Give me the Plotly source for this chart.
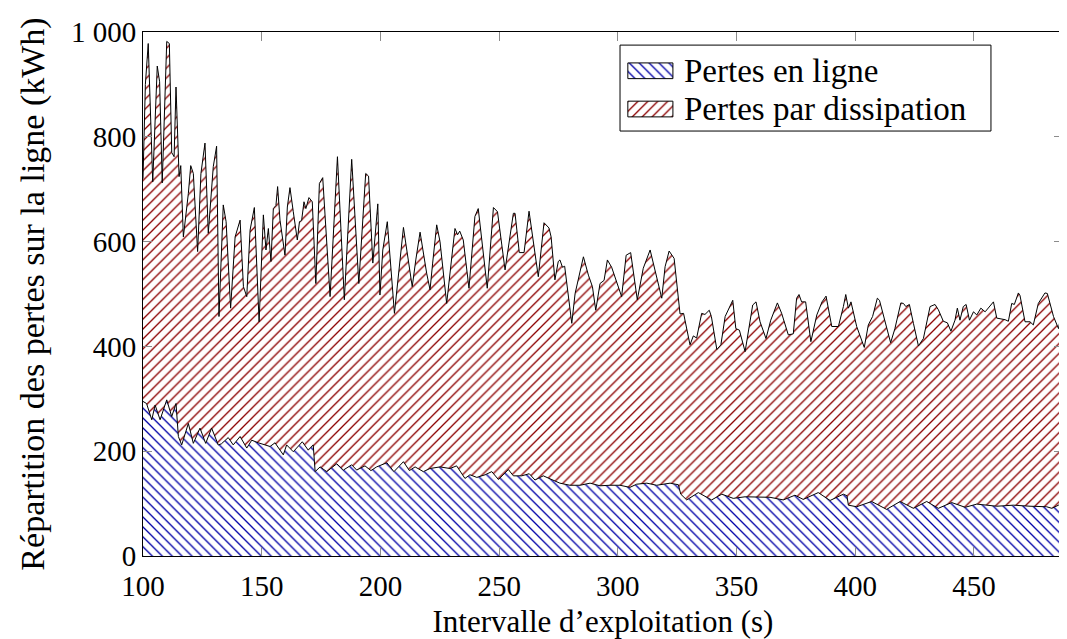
import plotly.graph_objects as go

# --- Data ---
# Upper edge of the stack (Pertes en ligne + Pertes par dissipation), kWh
x_total = [100, 101, 102.2, 103, 104.1, 106.0, 107, 108.1, 110.0, 111.1, 112.1, 113.1, 113.9, 115.2, 115.9,
           117.0, 119.1, 120.1, 121.2, 123.0, 124.4, 126.1, 127.5, 129.6, 131.0, 132.0, 133.8, 135.0, 136.9,
           138.8, 140.9, 142.3, 143.7, 145.1, 146.9, 148.9, 150.7, 151.8, 152.8, 153.9, 154.9, 156.0, 156.7,
           157.7, 159.8, 160.8, 161.9, 163.3, 165.0, 165.9, 166.8, 167.8, 168.6, 169.9, 171.3, 172.8, 174.3,
           175.7, 178.8, 181.9, 184.8, 187.9, 190.9, 193.8, 195.0, 196.8, 198.9, 199.8, 201.0, 202.9, 205.9,
           209.7, 213.4, 214.9, 216.7, 219.5, 220.9, 222.0, 223.7, 225.1, 227.9, 231.4, 232.5, 233.4, 234.9,
           237.3, 239.8, 241.2, 245.0, 247.6, 249.3, 252.5, 256.0, 256.7, 258.5, 260.5, 262.6, 266.5, 268.9,
           271.0, 271.9, 273.5, 274.9, 275.6, 276.7, 277.6, 280.6, 282.0, 285.5, 287.6, 289.3, 290.7, 292.5,
           294.2, 295.6, 297.4, 301.6, 303.5, 305.4, 308.2, 310.7, 313.6, 318.5, 319.9, 321.6, 323.7, 326.2,
           327.7, 330.4, 331.8, 333.2, 335.3, 336.7, 338.5, 339.4, 341.7, 343.4, 345.2, 348.4, 349.7, 351.2,
           353.6, 355.7, 356.8, 358.2, 359.9, 362.4, 364.4, 367.2, 369.0, 371.8, 373.9, 375.3, 376.3, 377.4,
           379.1, 381.3, 383.8, 386.0, 387.7, 390.1, 392.9, 395.0, 396.0, 397.1, 398.2, 400.6, 403.8, 405.5,
           407.3, 409.3, 410.2, 414.9, 416.7, 419.2, 420.3, 421.3, 422.8, 424.5, 426.6, 428.7, 431.5, 433.6,
           435.0, 437.1, 438.8, 440.3, 442.0, 443.0, 444.1, 445.5, 446.7, 448.1, 449.8, 451.2, 452.9, 454.7,
           458.2, 459.6, 463.1, 464.5, 465.9, 467.0, 468.7, 469.4, 471.5, 473.6, 475.0, 477.1, 479.9, 480.9,
           483.5, 485.6, 487.5]
y_total = [720, 900, 978, 850, 714, 935, 905, 712, 982, 978, 770, 762, 895, 724, 745,
           609, 692, 745, 730, 581, 730, 788, 616, 743, 782, 457, 670, 638, 473,
           609, 641, 514, 495, 622, 665, 447, 651, 584, 625, 562, 663, 669, 705,
           641, 574, 666, 703, 657, 603, 638, 640, 676, 663, 684, 676, 520, 711,
           722, 495, 762, 489, 757, 520, 730, 725, 559, 672, 498, 584, 638, 463,
           627, 514, 565, 618, 539, 508, 559, 632, 600, 482, 625, 613, 620, 603,
           511, 648, 663, 511, 665, 657, 546, 654, 654, 579, 579, 658, 533, 636,
           626, 609, 527, 562, 565, 551, 553, 444, 501, 571, 536, 514, 469, 520,
           526, 565, 551, 495, 574, 579, 489, 549, 584, 492, 552, 582, 568, 462,
           463, 403, 420, 416, 463, 461, 469, 457, 394, 403, 457, 488, 434, 431,
           390, 447, 479, 485, 447, 415, 450, 483, 463, 422, 424, 492, 499, 485,
           485, 409, 460, 485, 496, 438, 438, 476, 499, 473, 485, 438, 398, 441,
           457, 492, 488, 407, 434, 483, 482, 476, 480, 444, 401, 415, 476, 480,
           470, 448, 445, 429, 450, 473, 450, 476, 480, 450, 466, 460, 473, 466,
           485, 454, 451, 448, 482, 480, 502, 497, 447, 447, 441, 482, 502, 501,
           457, 434, 480]

# Pertes en ligne (lower layer), kWh
x_ligne = [100, 101.5, 103.7, 105.1, 107.2, 110.0, 112.1, 113.9, 114.9, 116.3, 119.1, 121.2, 124.0, 126.4,
           128.9, 131.7, 133.0, 135.9, 138.0, 140.9, 143.7, 145.8, 148.6, 151.4, 153.5, 155.6, 159.1, 160.5,
           163.3, 167.1, 169.6, 171.7, 172.5, 174.6, 177.4, 181.6, 184.4, 187.9, 190.0, 193.5, 196.0, 198.4,
           202.7, 205.7, 209.7, 212.2, 214.6, 218.1, 220.9, 225.1, 229.3, 232.1, 235.6, 237.7, 240.6, 244.1,
           246.9, 249.7, 253.9, 256.0, 259.5, 262.7, 265.1, 268.6, 272.8, 275.6, 279.8, 284.1, 288.3, 292.5,
           296.7, 300.9, 305.1, 307.9, 312.2, 316.4, 322.0, 325.5, 326.5, 329.0, 333.9, 339.5, 343.8, 348.6,
           353.6, 358.5, 364.1, 369.7, 374.6, 378.1, 384.4, 389.4, 395.0, 396.5, 397.1, 400.6, 406.9, 413.2,
           418.9, 424.5, 430.1, 435.0, 440.6, 446.3, 451.2, 459.6, 466.6, 473.6, 480.6, 482.8, 485.6, 487.5]
y_ligne = [295, 291, 260, 288, 260, 298, 266, 291, 228, 212, 253, 215, 244, 215,
           244, 212, 214, 226, 212, 228, 206, 221, 216, 212, 209, 216, 193, 212,
           199, 218, 202, 212, 161, 170, 161, 176, 164, 174, 164, 172, 163, 170,
           178, 161, 180, 163, 170, 161, 167, 170, 167, 172, 148, 155, 150, 155,
           161, 146, 165, 153, 153, 157, 145, 153, 145, 139, 135, 135, 139, 134,
           135, 135, 131, 137, 139, 135, 139, 136, 118, 107, 121, 107, 118, 110,
           113, 112, 112, 107, 116, 108, 121, 106, 118, 115, 97, 94, 104, 89,
           104, 91, 104, 91, 102, 93, 99, 95, 97, 95, 94, 91, 97, 104]

series_names = ["Pertes en ligne", "Pertes par dissipation"]
x_ticks = [100, 150, 200, 250, 300, 350, 400, 450]
y_ticks = [0, 200, 400, 600, 800, 1000]
y_tick_labels = ["0", "200", "400", "600", "800", "1 000"]

FONT = "Liberation Serif"
BLUE = "#0000a8"
RED = "#8c0000"
pat_blue = dict(shape="\\", fgcolor=BLUE, fgopacity=1, bgcolor="white", size=7, solidity=0.19)
pat_red = dict(shape="/", fgcolor=RED, fgopacity=1, bgcolor="white", size=7, solidity=0.19)

fig = go.Figure()
fig.add_trace(go.Scatter(
    x=x_ligne, y=y_ligne, name=series_names[0], mode="lines",
    line=dict(color="black", width=1), showlegend=False,
    fill="tozeroy", fillcolor="white", fillpattern=pat_blue,
))
fig.add_trace(go.Scatter(
    x=x_total, y=y_total, name=series_names[1], mode="lines",
    line=dict(color="black", width=1), showlegend=False,
    fill="tonexty", fillcolor="white", fillpattern=pat_red,
))

# --- Legend (pgfplots style: hatched key boxes with a frame), drawn on an overlay axis in plot-area fractions ---
leg_box = dict(x0=0.5185, x1=0.9217, y0=0.811, y1=0.975)
key_x = (0.527, 0.576)
key_rows = [(0.911, 0.941), (0.838, 0.868)]
text_x = 0.586
for (ky0, ky1), pat, name in zip(key_rows, [pat_blue, pat_red], series_names):
    fig.add_trace(go.Scatter(
        x=[key_x[0], key_x[1], key_x[1], key_x[0], key_x[0]],
        y=[ky0, ky0, ky1, ky1, ky0],
        xaxis="x2", yaxis="y2", mode="lines", fill="toself", fillcolor="white",
        fillpattern=pat, line=dict(color="black", width=1),
        showlegend=False, hoverinfo="skip",
    ))
    fig.add_annotation(
        x=text_x, y=(ky0 + ky1) / 2, xref="paper", yref="paper",
        text=name, showarrow=False, xanchor="left", yanchor="middle",
        font=dict(family=FONT, size=33, color="black"),
    )
fig.add_shape(type="rect", xref="paper", yref="paper", line=dict(color="black", width=1),
              fillcolor="rgba(0,0,0,0)", layer="above", **leg_box)

axis_common = dict(
    showline=True, linecolor="black", linewidth=1, mirror="allticks",
    ticks="inside", ticklen=9, tickcolor="#8c8c8c", tickwidth=1,
    showgrid=False, zeroline=False,
    tickfont=dict(family=FONT, size=29, color="black"),
)

fig.update_layout(
    width=1059, height=631,
    margin=dict(l=135, r=4, t=24, b=83),
    paper_bgcolor="white", plot_bgcolor="white",
    font=dict(family=FONT, size=29, color="black"),
    showlegend=False,
    xaxis=dict(
        range=[100, 487.5], tickvals=x_ticks, ticklabelstandoff=4,
        title=dict(text="Intervalle d’exploitation (s)", font=dict(family=FONT, size=31), standoff=11),
        **axis_common,
    ),
    yaxis=dict(
        range=[0, 1000], tickvals=y_ticks, ticktext=y_tick_labels,
        title=dict(text="Répartition des pertes sur la ligne (kWh)", font=dict(family=FONT, size=34), standoff=16),
        **axis_common,
    ),
    xaxis2=dict(overlaying="x", range=[0, 1], visible=False, fixedrange=True),
    yaxis2=dict(overlaying="y", range=[0, 1], visible=False, fixedrange=True),
)

fig.write_html("out.html")
